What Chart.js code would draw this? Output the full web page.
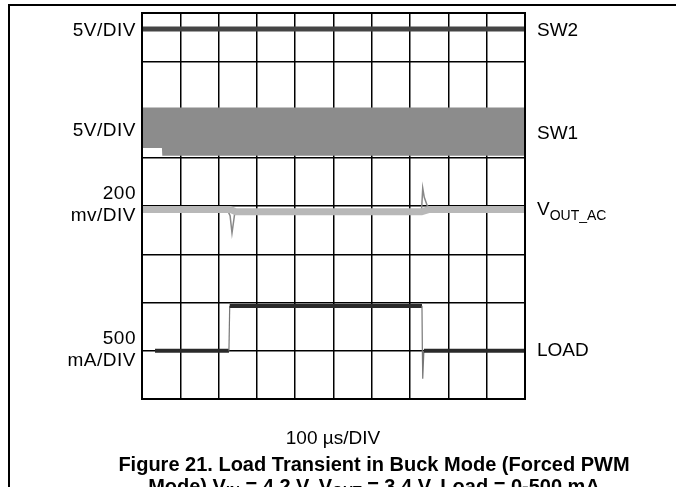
<!DOCTYPE html>
<html>
<head>
<meta charset="utf-8">
<script src="https://cdn.jsdelivr.net/npm/chart.js@4.4.1/dist/chart.umd.min.js"></script>
<style>
  html, body { margin: 0; padding: 0; background: #fff; }
  body { width: 676px; height: 487px; position: relative; overflow: hidden;
         font-family: "Liberation Sans", Arial, sans-serif; color: #000; }
  #frame { position: absolute; left: 8px; top: 4px; right: -4px; bottom: -4px;
           border-top: 2px solid #000; border-left: 2px solid #000; }
  #out { position: absolute; left: 0; top: 0; }
  .lbl { position: absolute; font-size: 19px; line-height: 20px; white-space: nowrap; }
  .left { right: 540px; text-align: right; letter-spacing: 0.5px; }
  .right { left: 537px; }
  .sub { font-size: 14px; position: relative; top: 5px; }
  #xlabel { position: absolute; left: 0; width: 666px; top: 427px; text-align: center; font-size: 19px; }
  #caption { position: absolute; left: 62px; width: 624px; top: 453px; text-align: center;
             font-size: 20px; font-weight: bold; line-height: 22px; }
  #caption .sub { font-size: 14px; top: 3px; }
</style>
</head>
<body>
<div id="frame"></div>
<canvas id="out" width="676" height="487"></canvas>

<div class="lbl left" style="top:20px">5V/DIV</div>
<div class="lbl left" style="top:120px">5V/DIV</div>
<div class="lbl left" style="top:183px">200</div>
<div class="lbl left" style="top:205px">mv/DIV</div>
<div class="lbl left" style="top:328px">500</div>
<div class="lbl left" style="top:350px">mA/DIV</div>

<div class="lbl right" style="top:20px">SW2</div>
<div class="lbl right" style="top:123px">SW1</div>
<div class="lbl right" style="top:199px">V<span class="sub">OUT_AC</span></div>
<div class="lbl right" style="top:340px">LOAD</div>

<div id="xlabel">100 &micro;s/DIV</div>
<div id="caption">Figure 21. Load Transient in Buck Mode (Forced PWM<br>Mode) V<span class="sub">IN</span> = 4.2 V, V<span class="sub">OUT</span> = 3.4 V, Load = 0-500 mA</div>

<script>
// values in screen divisions: x = 0..10 (100 us/div), y = 0..8 (bottom to top)
const sw2Time = [0, 10];
const sw2Level = [7.67, 7.67];

const sw1Time = [0, 0.52, 0.53, 10];
const sw1High = [6.04, 6.04, 6.04, 6.04];
const sw1Low = [5.2, 5.2, 5.04, 5.04];
const sw1Edge = [5.95, 5.95, 5.95, 5.95];

const voutBandTime = [0, 2.3, 2.45, 7.3, 7.5, 10];
const voutBand = [3.93, 3.93, 3.88, 3.88, 3.93, 3.93];
const voutDipTime = [2.22, 2.3, 2.35, 2.42, 2.52];
const voutDip = [3.93, 3.8, 3.44, 3.84, 3.9];
const voutSpikeTime = [7.3, 7.33, 7.37, 7.45, 7.56];
const voutSpike = [3.93, 4.37, 4.18, 4.0, 3.95];

const loadTime = [0.34, 2.27, 2.29, 7.31, 7.32, 7.33, 7.36, 10];
const loadLevel = [1.0, 1.0, 1.93, 1.93, 1.0, 0.42, 1.0, 1.0];

const xTicks = [0, 1, 2, 3, 4, 5, 6, 7, 8, 9, 10];
const yTicks = [0, 1, 2, 3, 4, 5, 6, 7, 8];

function pts(xs, ys) {
  return xs.map((x, i) => ({ x: x, y: ys[i] }));
}

const canvasCtx = document.getElementById('out').getContext('2d');

const base = { pointRadius: 0, tension: 0, fill: false };

const chartConfig = {
  type: 'line',
  data: {
    datasets: [
      Object.assign({}, base, { label: 'SW2', data: pts(sw2Time, sw2Level), borderColor: '#444', borderWidth: 5 }),
      Object.assign({}, base, { label: 'SW1 high', data: pts(sw1Time, sw1High), borderColor: '#8c8c8c', borderWidth: 0,
        backgroundColor: '#8c8c8c', fill: '+1' }),
      Object.assign({}, base, { label: 'SW1 low', data: pts(sw1Time, sw1Low), borderColor: '#8c8c8c', borderWidth: 0 }),
      Object.assign({}, base, { label: 'SW1 edge', data: pts(sw1Time, sw1Edge), borderColor: '#adadad', borderWidth: 5 }),
      Object.assign({}, base, { label: 'VOUT band', data: pts(voutBandTime, voutBand), borderColor: '#b8b8b8', borderWidth: 7 }),
      Object.assign({}, base, { label: 'VOUT dip', data: pts(voutDipTime, voutDip), borderColor: '#888', borderWidth: 1.5 }),
      Object.assign({}, base, { label: 'VOUT spike', data: pts(voutSpikeTime, voutSpike), borderColor: '#888', borderWidth: 1.5 }),
      Object.assign({}, base, { label: 'LOAD', data: pts(loadTime, loadLevel), borderColor: '#2a2a2a', borderWidth: 4,
        segment: {
          borderWidth: (ctx) => (Math.abs(ctx.p1.parsed.x - ctx.p0.parsed.x) < 0.05) ? 1.2 : 4,
          borderColor: (ctx) => (Math.abs(ctx.p1.parsed.x - ctx.p0.parsed.x) < 0.05) ? '#777' : '#2a2a2a'
        } })
    ]
  },
  options: {
    animation: false,
    responsive: false,
    devicePixelRatio: 1,
    layout: { padding: { left: 142, right: 151, top: 13, bottom: 88 } },
    plugins: { legend: { display: false }, tooltip: { enabled: false } },
    scales: {
      x: {
        type: 'linear', min: 0, max: 10, z: 1,
        afterBuildTicks: (axis) => { axis.ticks = xTicks.map(v => ({ value: v })); },
        ticks: { display: false },
        grid: { color: '#000', lineWidth: 1.5, drawTicks: false },
        border: { color: '#000', width: 2 }
      },
      y: {
        type: 'linear', min: 0, max: 8, z: 1,
        afterBuildTicks: (axis) => { axis.ticks = yTicks.map(v => ({ value: v })); },
        ticks: { display: false },
        grid: { color: '#000', lineWidth: 1.5, drawTicks: false },
        border: { color: '#000', width: 2 }
      }
    }
  },
  plugins: [{
    id: 'frameBox',
    afterDraw(chart) {
      const a = chart.chartArea;
      const c = chart.ctx;
      c.save();
      c.strokeStyle = '#000';
      c.lineWidth = 2;
      c.strokeRect(a.left, a.top, a.right - a.left, a.bottom - a.top);
      c.restore();
    }
  }]
};

window.chart = new Chart(canvasCtx, chartConfig);
</script>
</body>
</html>
